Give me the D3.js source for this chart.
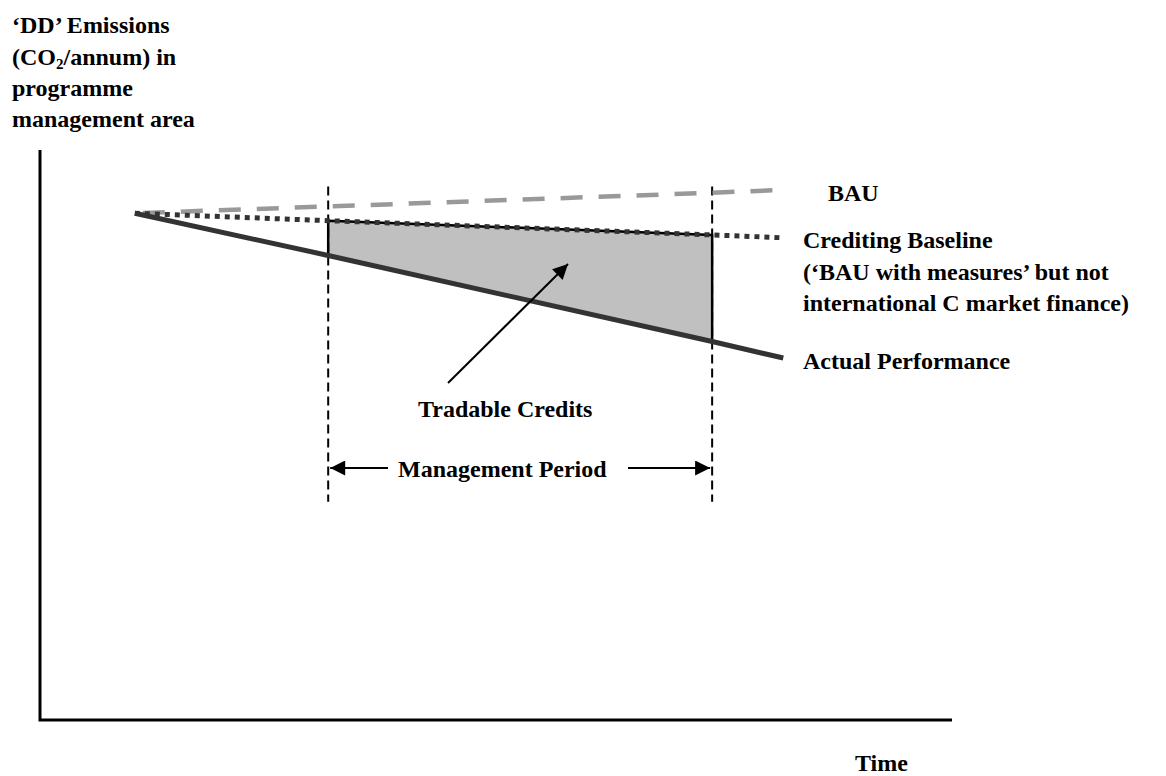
<!DOCTYPE html>
<html>
<head>
<meta charset="utf-8">
<script src="https://cdn.jsdelivr.net/npm/d3@7"></script>
<style>
  body { margin: 0; background: #fff; }
  text { font-family: "Liberation Serif", "Times New Roman", serif; font-weight: bold; font-size: 24px; fill: #000; }
</style>
</head>
<body>
<div id="container"></div>
<script>
/* DATA */
// time points: start, management period start, management period end, end of projection
const timePoints = [10.4, 31.6, 73.7, 81.5];
const bauSeries = [88.9, 90.1, 92.5, 93.0];
const baselineSeries = [88.9, 87.6, 85.1, 84.6];
const actualSeries = [88.9, 81.5, 66.4, 63.5];

const periodRange = [38.3, 93.6]; // vertical extent of the period markers (y units)
const seriesLabels = ["BAU", "Crediting Baseline", "Actual Performance"];
const baselineNote = ["(\u2018BAU with measures\u2019 but not", "international C market finance)"];
const yTitle = ["\u2018DD\u2019 Emissions", "(CO", "programme", "management area"];

const width = 1166,
      height = 776;

const svg = d3.select("#container")
  .append("svg")
  .attr("width", width)
  .attr("height", height);

const x = d3.scaleLinear().domain([0, 100]).range([40, 952]);
const y = d3.scaleLinear().domain([0, 100]).range([720, 150]);

const pts = s => timePoints.map((t, i) => [x(t), y(s[i])]);
const line = d3.line();

// shaded area between baseline and actual during the period
const area = [
  [x(timePoints[1]), y(baselineSeries[1])],
  [x(timePoints[2]), y(baselineSeries[2])],
  [x(timePoints[2]), y(actualSeries[2])],
  [x(timePoints[1]), y(actualSeries[1])]
];
svg.append("path")
  .attr("d", line(area) + "Z")
  .attr("fill", "#c0c0c0")
  .attr("stroke", "#000")
  .attr("stroke-width", 2.5);

// period markers
svg.selectAll(".period")
  .data([timePoints[1], timePoints[2]])
  .enter().append("line")
  .attr("x1", d => x(d)).attr("x2", d => x(d))
  .attr("y1", y(periodRange[1])).attr("y2", y(periodRange[0]))
  .attr("stroke", "#000")
  .attr("stroke-width", 2)
  .attr("stroke-dasharray", "9,5");

// BAU
svg.append("path")
  .attr("d", line(pts(bauSeries)))
  .attr("fill", "none")
  .attr("stroke", "#999")
  .attr("stroke-width", 4.5)
  .attr("stroke-dasharray", "22,16")
  .attr("stroke-dashoffset", -8);

// crediting baseline
svg.append("path")
  .attr("d", line(pts(baselineSeries)))
  .attr("fill", "none")
  .attr("stroke", "#333")
  .attr("stroke-width", 5)
  .attr("stroke-dasharray", "5,5");

// actual
svg.append("path")
  .attr("d", line(pts(actualSeries)))
  .attr("fill", "none")
  .attr("stroke", "#333")
  .attr("stroke-width", 5);

// axes
svg.append("path")
  .attr("d", line([[x(0), y(100)], [x(0), y(0)], [x(100), y(0)]]))
  .attr("fill", "none")
  .attr("stroke", "#000")
  .attr("stroke-width", 3);

// arrowhead marker
svg.append("defs").append("marker")
  .attr("id", "head")
  .attr("viewBox", "0 0 10 10")
  .attr("refX", 10).attr("refY", 5)
  .attr("markerWidth", 9).attr("markerHeight", 7.5)
  .attr("markerUnits", "strokeWidth")
  .attr("orient", "auto")
  .append("path")
  .attr("d", "M0,0L10,5L0,10Z")
  .attr("fill", "#000");

// tradable credits pointer
svg.append("line")
  .attr("x1", 448).attr("y1", 383)
  .attr("x2", 568).attr("y2", 264)
  .attr("stroke", "#000")
  .attr("stroke-width", 2)
  .attr("marker-end", "url(#head)");

svg.append("text").attr("x", 418).attr("y", 417).text("Tradable Credits");

// management period arrows
const arrowY = 468;
svg.append("line")
  .attr("x1", 388).attr("y1", arrowY)
  .attr("x2", x(timePoints[1]) + 2).attr("y2", arrowY)
  .attr("stroke", "#000").attr("stroke-width", 2)
  .attr("marker-end", "url(#head)");
svg.append("line")
  .attr("x1", 628).attr("y1", arrowY)
  .attr("x2", x(timePoints[2]) - 2).attr("y2", arrowY)
  .attr("stroke", "#000").attr("stroke-width", 2)
  .attr("marker-end", "url(#head)");
svg.append("text").attr("x", 398).attr("y", arrowY + 9).text("Management Period");

// series labels
svg.append("text").attr("x", 828).attr("y", 201).text(seriesLabels[0]);
svg.append("text").attr("x", 803).attr("y", 248).text(seriesLabels[1]);
svg.append("text").attr("x", 803).attr("y", 280).text(baselineNote[0]);
svg.append("text").attr("x", 803).attr("y", 311).text(baselineNote[1]);
svg.append("text").attr("x", 803).attr("y", 369).text(seriesLabels[2]);

// y title
svg.append("text").attr("x", 12).attr("y", 33).text(yTitle[0]);
const t2 = svg.append("text").attr("x", 12).attr("y", 65);
t2.append("tspan").text(yTitle[1]);
t2.append("tspan").attr("font-size", "15px").attr("dy", 4).text("2");
t2.append("tspan").attr("dy", -4).text("/annum) in");
svg.append("text").attr("x", 12).attr("y", 96).text(yTitle[2]);
svg.append("text").attr("x", 12).attr("y", 127).text(yTitle[3]);

// x title
svg.append("text").attr("x", 855).attr("y", 771).text("Time");
</script>
</body>
</html>
